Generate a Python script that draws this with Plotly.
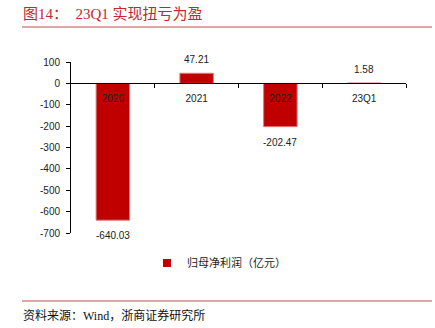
import plotly.graph_objects as go

categories = ["2020", "2021", "2022", "23Q1"]
profit = [-640.03, 47.21, -202.47, 1.58]
labels = ["-640.03", "47.21", "-202.47", "1.58"]
y_ticks = [100, 0, -100, -200, -300, -400, -500, -600, -700]
y_ticktext = ["100", "0", "-100", "-200", "-300", "-400", "-500", "-600", "-700"]
series_name = "归母净利润（亿元）"
title_text = "图14：  23Q1 实现扭亏为盈"
source_text = "资料来源：Wind，浙商证券研究所"

W, H = 435, 328
L, R, T, B = 71, 29, 62, 95
PW, PH = W - L - R, H - T - B

def px(x):
    return (x - L) / PW

def py(y):
    return (H - B - y) / PH

BAR_COLOR = "#C00000"

fig = go.Figure()
fig.add_trace(go.Bar(
    x=list(range(len(categories))), y=profit, name=series_name, width=0.4,
    marker=dict(color=BAR_COLOR, line=dict(color="#E07878", width=1)),
    showlegend=False,
))
# legend entry
fig.add_trace(go.Scatter(
    x=[None], y=[None], mode="markers", name=series_name,
    marker=dict(symbol="square", size=8, color=BAR_COLOR),
))

for i, (v, t) in enumerate(zip(profit, labels)):
    fig.add_annotation(
        x=i, y=v, xref="x", yref="y", text=t,
        showarrow=False, yanchor="bottom" if v >= 0 else "top",
        yshift=6 if v >= 0 else -8,
        font=dict(family="Liberation Sans, Arial", size=10, color="#222222"),
    )

fig.add_annotation(xref="paper", yref="paper", x=px(21), y=py(14), text=title_text,
                   showarrow=False, xanchor="left", yanchor="middle",
                   font=dict(family="Liberation Serif, Noto Sans CJK SC", size=15, color="#C0282D"))
fig.add_annotation(xref="paper", yref="paper", x=px(21), y=py(315), text=source_text,
                   showarrow=False, xanchor="left", yanchor="middle",
                   font=dict(family="Liberation Serif, Noto Sans CJK SC", size=12, color="#111111"))
fig.add_shape(type="line", xref="paper", yref="paper", x0=px(22), x1=px(432), y0=py(27), y1=py(27),
              line=dict(color="#C0504D", width=1.2))
fig.add_shape(type="line", xref="paper", yref="paper", x0=px(22), x1=px(432), y0=py(301), y1=py(301),
              line=dict(color="#C0504D", width=1.2))

fig.update_layout(
    width=W, height=H, margin=dict(l=L, r=R, t=T, b=B),
    paper_bgcolor="white", plot_bgcolor="white",
    showlegend=True,
    legend=dict(orientation="h", x=px(219), xanchor="center", y=py(263), yanchor="middle",
                font=dict(family="Noto Sans CJK SC", size=11, color="#222222"),
                itemwidth=30, bgcolor="rgba(0,0,0,0)"),
    font=dict(family="Liberation Sans, Arial", size=10, color="#222222"),
)
fig.update_xaxes(
    range=[-0.5, 3.5], anchor="free", position=0.875,
    tickmode="array", tickvals=list(range(len(categories))), ticktext=categories,
    showline=True, linecolor="black", linewidth=1,
    ticks="", showgrid=False, zeroline=False, ticklabelstandoff=6,
    tickfont=dict(family="Liberation Sans, Arial", size=10, color="#222222"),
)
fig.update_yaxes(
    range=[-700, 100], domain=[0, 1],
    tickmode="array", tickvals=y_ticks, ticktext=y_ticktext,
    showline=True, linecolor="black", linewidth=1,
    ticks="outside", ticklen=4, tickcolor="black",
    showgrid=False, zeroline=False, ticklabelstandoff=4,
    tickfont=dict(family="Liberation Sans, Arial", size=10, color="#222222"),
)
# category boundary tick marks on the x axis
fig.update_xaxes(minor=dict(tickmode="array", tickvals=[0.5, 1.5, 2.5, 3.5],
                            ticks="outside", ticklen=4, tickcolor="black", showgrid=False))

fig.write_html("out.html")
